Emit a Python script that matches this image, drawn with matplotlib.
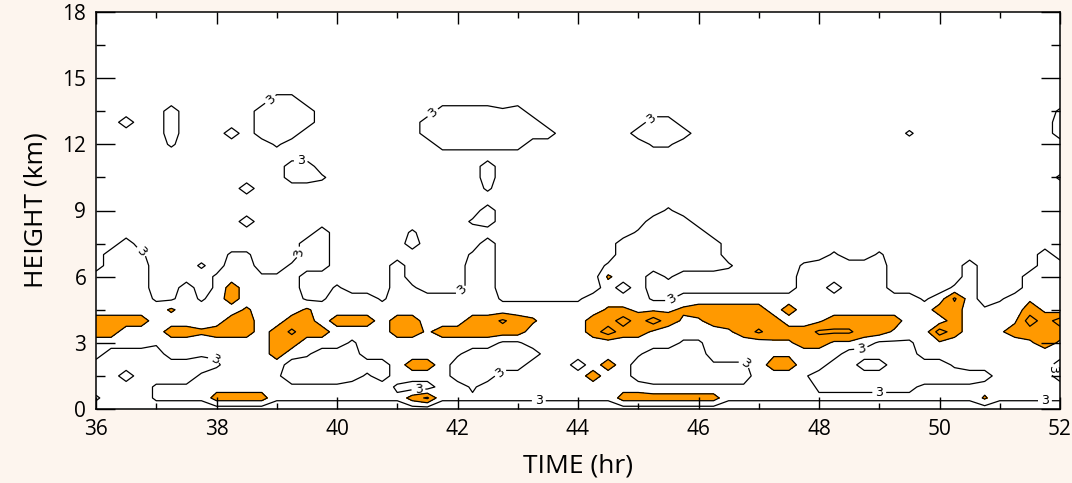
import numpy as np
import matplotlib.pyplot as plt
from matplotlib.ticker import MultipleLocator

# grid of the field: time (hr) across, height (km) up
time_hr = np.arange(36, 52.001, 0.25)
height_km = np.arange(0, 15.001, 0.5)

# one block of four characters per hour, last character is t = 52
field_rows = [
    '.... .... .... .... .... .... .... .... .... .... .... .... .... .... .... .... .',  # 15.0
    '.... .... .... .... .... .... .... .... .... .... .... .... .... .... .... .... .',  # 14.5
    '.... .... .... oo.. .... .... .... .... .... .... .... .... .... .... .... .... .',  # 14.0
    '.... .o.. ...o ooo. .... ...o ooo+ o... .... .... .... .... .... .... .... .... +',  # 13.5
    '..o. .o.. ...o ooo. .... ..oo oooo oo.. .... .oo. .... .... .... .... .... .... o',  # 13.0
    '.... .o.. .o.o oo.. .... ..oo oooo ooo. .... oooo .... .... .... ..+. .... .... o',  # 12.5
    '.... .+.. .... +... .... ...o oooo o... .... .++. .... .... .... .... .... .... .',  # 12.0
    '.... .... .... .... .... .... .... .... .... .... .... .... .... .... .... .... .',  # 11.5
    '.... .... .... .oo. .... .... ..o. .... .... .... .... .... .... .... .... .... .',  # 11.0
    '.... .... .... .oo+ .... .... ..o. .... .... .... .... .... .... .... .... .... +',  # 10.5
    '.... .... ..o. .... .... .... ..+. .... .... .... .... .... .... .... .... .... .',  # 10.0
    '.... .... .... .... .... .... .... .... .... .... .... .... .... .... .... .... .',  # 9.5
    '.... .... .... .... .... .... ..o. .... .... ..+. .... .... .... .... .... .... .',  # 9.0
    '.... .... ..o. .... .... .... .+o. .... .... .ooo .... .... .... .... .... .... .',  # 8.5
    '.... .... .... ...o .... .+.. .... .... .... +ooo o... .... .... .... .... .... .',  # 8.0
    '..o. .... .... ..oo .... .o.. ..o. .... ...o oooo oo.. .... .... .... .... .... .',  # 7.5
    '.oo+ .... .++. ..oo .... .... .+o. .... ...o oooo oo.. .... .+.. +... .... ...o .',  # 7.0
    '.ooo ...+ .oo. .+oo .... o... .oo. .... ..+o oooo oo+. ...+ o+oo o... ..o. ...o o',  # 6.5
    'oooo .... +oo+ +o.. .... o... .oo. .... ..*o o.+. .... ...o oooo o... ..o. ..oo o',  # 6.0
    'oooo ..o. +xoo oo.. +... o+.. .oo. .... ..o. o... .... ...o o.oo o... .+o. ..oo o',  # 5.5
    'oooo ::o: oxoo oo:: ooo: oooo ooo: :::: :ooo o::o oooo oooo oooo ooo: o@o. :o=o o',  # 5.0
    'oooo o*oo oo*o oo*o oooo oooo oooo oooo oo** ===* xxxx xoxo oooo oooo xxo+ oox= o',  # 4.5
    'xxxx oooo oxxo oxxo xxxo xxoo oxx@ x*oo oxx# x#x= =xxx xxoo =xxx xxoo oxoo o=#x #',  # 4.0
    'xxoo oxx* xxxo x@xx oooo xx=x xxxx xooo ox#x x=oo oo=x @xxx @@@x x=oo #xoo =xxx x',  # 3.5
    'oooo +ooo oooo xxoo o:oo oooo ooo: :ooo oooo ooo: :ooo o==x x==o :::o =ooo oo=x =',  # 3.0
    'o... .oo+ +ooo xo+. ..oo oooo +... ..oo oooo +... .ooo o==o oo.. ...o oooo oooo o',  # 2.5
    '.... .... :ooo o... .... oxxo .... .ooo .oxo .... .::: oxxo o..o o... .+oo oooo .',  # 2.0
    '..o. ...+ oooo +... ..+. oooo ...o oooo oxoo .... .... ooo+ .... .... .... oooo .',  # 1.5
    '.... +++o oooo o+++ +ooo :..o o:oo oooo oooo o+++ ++++ oooo :::: :::+ +++o oooo o',  # 1.0
    '+... ++++ xxxx ++++ ++++ +x@+ ++++ ++++ +++x xxxx xx++ ++++ ++++ ++++ +++* ++++ +',  # 0.5
    '.... .... .... .... .... .... .... .... .... .... .... .... .... .... .... .... .',  # 0.0
]
char_value = {'.': 0, ':': 2, '+': 4, 'o': 6, '=': 8, '*': 10, 'x': 12, '@': 16, '#': 18}

line_level = 3
fill_level = 9
inner_level = 15

# where the "3" labels sit on the contour lines (time hr, height km)
label_spots = [(36.7, 7.0), (38.0, 2.55), (39.45, 7.1), (39.1, 13.5), (39.4, 11.1),
               (42.1, 5.3), (41.35, 0.95), (42.75, 1.55), (43.35, 0.35), (41.6, 13.4),
               (45.2, 13.2), (45.55, 5.0), (46.9, 2.4), (49.0, 0.8), (48.7, 2.7),
               (51.9, 1.8), (51.75, 0.35)]

z = np.array([[char_value[c] for c in row.replace(' ', '')] for row in field_rows[::-1]],
             dtype=float)
T, H = np.meshgrid(time_hr, height_km)

fig = plt.figure(figsize=(10.72, 4.83), dpi=100, facecolor='#FDF5EE')
ax = fig.add_axes([96/1072, 74/483, 964/1072, 397/483])
ax.set_facecolor('white')

ax.contourf(T, H, z, levels=[fill_level, 100], colors=['#FF9900'])
ax.contour(T, H, z, levels=[fill_level, inner_level], colors='black', linewidths=0.9)
cs = ax.contour(T, H, z, levels=[line_level], colors='black', linewidths=0.9)
ax.clabel(cs, fmt={line_level: '3'}, fontsize=9, inline=True, inline_spacing=3,
          manual=label_spots)

ax.set_xlim(36, 52)
ax.set_ylim(0, 18)
ax.xaxis.set_major_locator(MultipleLocator(2))
ax.xaxis.set_minor_locator(MultipleLocator(1))
ax.yaxis.set_major_locator(MultipleLocator(3))
ax.yaxis.set_minor_locator(MultipleLocator(1.5))
ax.tick_params(which='both', direction='in', top=True, right=True, width=1.0)
ax.tick_params(axis='x', which='major', length=8.6, pad=7)
ax.tick_params(axis='x', which='minor', length=4.3)
ax.tick_params(axis='y', which='major', length=13.7, pad=7)
ax.tick_params(axis='y', which='minor', length=6.8)
for spine in ax.spines.values():
    spine.set_linewidth(1.1)

for lab in ax.get_xticklabels() + ax.get_yticklabels():
    lab.set_fontfamily('Open Sans')
    lab.set_fontsize(15)
ax.set_xlabel('TIME (hr)', fontsize=19, fontfamily='Open Sans', labelpad=10)
ax.set_ylabel('HEIGHT (km)', fontsize=19, fontfamily='Open Sans', labelpad=10)

fig.savefig('out.png', dpi=100, facecolor=fig.get_facecolor())
